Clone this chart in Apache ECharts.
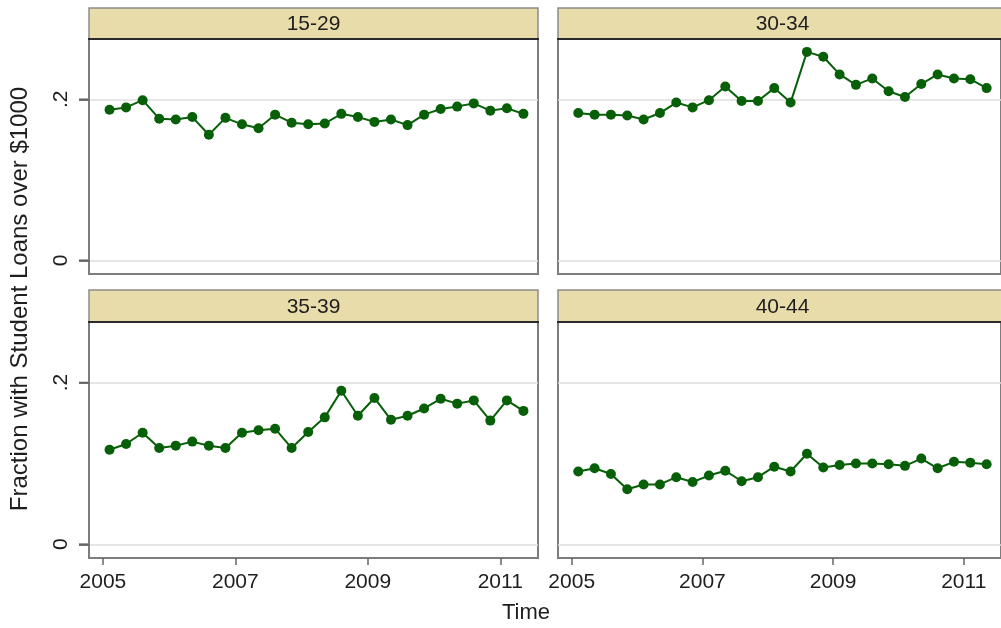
<!DOCTYPE html>
<html>
<head>
<meta charset="utf-8">
<title>Fraction with Student Loans over $1000, by age group</title>
<script src="https://cdn.jsdelivr.net/npm/echarts@6/dist/echarts.min.js"></script>
<style>
  html, body { margin: 0; padding: 0; background: #ffffff; }
  #chart { width: 1001px; height: 628px; }
</style>
</head>
<body>
<div id="chart"></div>
<script>
// Survey timing (decimal years) shared by every age group
const times = [
  2005.10, 2005.35, 2005.60, 2005.85, 2006.10, 2006.35, 2006.60, 2006.85,
  2007.10, 2007.35, 2007.60, 2007.85, 2008.10, 2008.35, 2008.60, 2008.85,
  2009.10, 2009.35, 2009.60, 2009.85, 2010.10, 2010.35, 2010.60, 2010.85,
  2011.10, 2011.35
];

// Age-group panel titles
const groups = ['15-29', '30-34', '35-39', '40-44'];

// Fraction with student loans over $1000, one array per age group
const age15to29 = [
  0.187, 0.190, 0.199, 0.176, 0.175, 0.178, 0.156, 0.177, 0.169, 0.164,
  0.181, 0.171, 0.169, 0.170, 0.182, 0.178, 0.172, 0.175, 0.168, 0.181,
  0.188, 0.191, 0.195, 0.186, 0.189, 0.182
];
const age30to34 = [
  0.183, 0.181, 0.181, 0.180, 0.175, 0.183, 0.196, 0.190, 0.199, 0.216,
  0.198, 0.198, 0.214, 0.196, 0.259, 0.253, 0.231, 0.218, 0.226, 0.210,
  0.203, 0.219, 0.231, 0.226, 0.225, 0.214
];
const age35to39 = [
  0.117, 0.124, 0.138, 0.119, 0.122, 0.127, 0.122, 0.119, 0.138, 0.141,
  0.143, 0.119, 0.139, 0.157, 0.190, 0.159, 0.181, 0.154, 0.159, 0.168,
  0.180, 0.174, 0.178, 0.153, 0.178, 0.165
];
const age40to44 = [
  0.090, 0.094, 0.087, 0.068, 0.074, 0.074, 0.083, 0.077, 0.085, 0.091,
  0.078, 0.083, 0.096, 0.090, 0.112, 0.095, 0.098, 0.100, 0.100, 0.099,
  0.097, 0.106, 0.094, 0.102, 0.101, 0.099
];

// Axis tick values
const yTicks = [0, 0.2];
const yTickLabels = { '0': '0', '0.2': '.2' };
const xTicks = [2005, 2007, 2009, 2011];

const yTitle = 'Fraction with Student Loans over $1000';
const xTitle = 'Time';

// ---- layout ----
const FONT = '"Liberation Sans", Arial, sans-serif';
const GREEN = '#075f07';
const AXIS_GRAY = '#7d7d7d';
const TICK_GRAY = '#666666';
const colLeft = [89, 558];
const panelW = 449;
const rows = [
  { headTop: 8, plotTop: 39, plotH: 235 },
  { headTop: 290, plotTop: 322, plotH: 236 }
];
const Y_MIN = -0.017, Y_MAX = 0.275;
const X_MIN = 2004.79, X_MAX = 2011.57;
const Y_TICK_LEN = 10;

const seriesData = [age15to29, age30to34, age35to39, age40to44];

const grids = [], xAxes = [], yAxes = [], series = [], graphics = [];

for (let i = 0; i < 4; i++) {
  const r = rows[Math.floor(i / 2)];
  const c = i % 2;
  const left = colLeft[c];
  const isBottom = i >= 2;
  const isLeft = c === 0;

  grids.push({
    left: left, top: r.plotTop, width: panelW, height: r.plotH,
    show: true, borderColor: AXIS_GRAY, borderWidth: 2,
    backgroundColor: '#ffffff'
  });

  xAxes.push({
    type: 'value', gridIndex: i, min: X_MIN, max: X_MAX,
    axisLine: { show: isBottom, onZero: false, lineStyle: { color: AXIS_GRAY, width: 2 } },
    splitLine: { show: false },
    axisTick: {
      show: isBottom, customValues: xTicks, length: 7,
      lineStyle: { color: TICK_GRAY, width: 1.5 }
    },
    axisLabel: {
      show: isBottom, customValues: xTicks, margin: 14,
      fontFamily: FONT, fontSize: 21, color: '#1e1e1e',
      formatter: v => String(Math.round(v))
    }
  });

  yAxes.push({
    type: 'value', gridIndex: i, min: Y_MIN, max: Y_MAX,
    axisLine: { show: isLeft, onZero: false, lineStyle: { color: AXIS_GRAY, width: 2 } },
    splitLine: { show: true, lineStyle: { color: '#dedede', width: 1.6 } },
    axisTick: {
      show: isLeft, customValues: yTicks, length: Y_TICK_LEN,
      lineStyle: { color: TICK_GRAY, width: 1.8 }
    },
    axisLabel: {
      show: isLeft, customValues: yTicks, rotate: 90, margin: 17,
      fontFamily: FONT, fontSize: 21, color: '#1e1e1e',
      formatter: v => yTickLabels[String(Math.round(v * 10) / 10)] || ''
    }
  });

  series.push({
    type: 'line', xAxisIndex: i, yAxisIndex: i,
    data: times.map((t, k) => [t, seriesData[i][k]]),
    symbol: 'circle', symbolSize: 10,
    itemStyle: { color: GREEN },
    lineStyle: { color: GREEN, width: 2 },
    animation: false, silent: true, z: 3
  });

  // outward y ticks on the left-hand panels, positioned by the panel's own scales
  if (isLeft) {
    series.push({
      type: 'custom', xAxisIndex: i, yAxisIndex: i,
      data: yTicks.map(v => [X_MIN, v]),
      clip: false, silent: true, animation: false, z: 20,
      renderItem: (params, api) => {
        const p = api.coord([api.value(0), api.value(1)]);
        return {
          type: 'line',
          shape: { x1: p[0] - Y_TICK_LEN, y1: p[1], x2: p[0] - 1, y2: p[1] },
          style: { stroke: TICK_GRAY, lineWidth: 1.8 }
        };
      }
    });
  }

  // strip header with the age-group title
  const headH = r.plotTop - r.headTop;
  graphics.push({
    type: 'rect', z: 10,
    shape: { x: left, y: r.headTop, width: panelW, height: headH },
    style: { fill: '#e8dcaa', stroke: '#8c8c8c', lineWidth: 1.5 }
  });
  graphics.push({
    type: 'line', z: 11,
    shape: { x1: left - 1, y1: r.plotTop, x2: left + panelW + 1, y2: r.plotTop },
    style: { stroke: '#2a2a2a', lineWidth: 2 }
  });
  graphics.push({
    type: 'text', z: 12,
    x: left + panelW / 2, y: r.headTop + headH / 2 + 1,
    style: {
      text: groups[i], fontFamily: FONT, fontSize: 21, fill: '#1e1e1e',
      textAlign: 'center', textVerticalAlign: 'middle'
    }
  });
}

// shared axis titles
graphics.push({
  type: 'text', z: 12, x: 20, y: 299, rotation: Math.PI / 2,
  style: {
    text: yTitle, fontFamily: FONT, fontSize: 24, fill: '#1e1e1e',
    textAlign: 'center', textVerticalAlign: 'middle'
  }
});
graphics.push({
  type: 'text', z: 12, x: 526, y: 613,
  style: {
    text: xTitle, fontFamily: FONT, fontSize: 22, fill: '#1e1e1e',
    textAlign: 'center', textVerticalAlign: 'middle'
  }
});

const chart = echarts.init(document.getElementById('chart'), null, { renderer: 'canvas' });
chart.setOption({
  backgroundColor: '#ffffff',
  animation: false,
  grid: grids,
  xAxis: xAxes,
  yAxis: yAxes,
  series: series,
  graphic: graphics
});
</script>
</body>
</html>
